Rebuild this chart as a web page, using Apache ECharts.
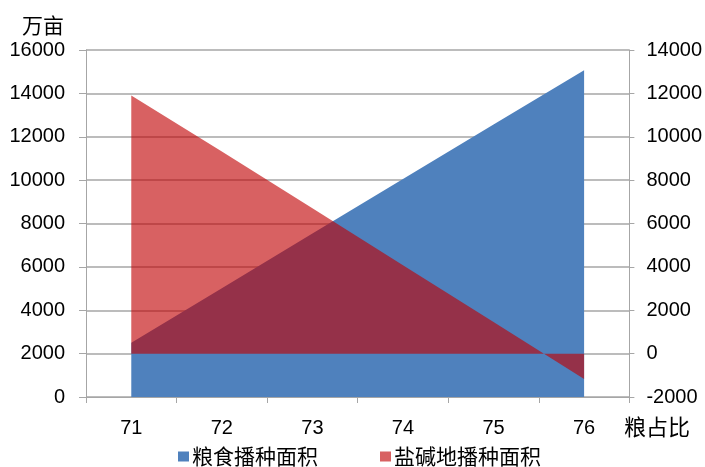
<!DOCTYPE html>
<html>
<head>
<meta charset="utf-8">
<script src="https://cdn.jsdelivr.net/npm/echarts@6/dist/echarts.min.js"></script>
<style>html,body{margin:0;padding:0;background:#fff;}#c{width:705px;height:467px;}</style>
</head>
<body>
<div id="c"></div>
<script>
var categories = ['71', '72', '73', '74', '75', '76'];
var grainArea = [2500, 5020, 7540, 10050, 12570, 15070];
var salineArea = [11900, 9320, 6700, 4080, 1460, -1170];
var seriesNames = ['粮食播种面积', '盐碱地播种面积'];
var leftTicks = {min: 0, max: 16000, interval: 2000};
var rightTicks = {min: -2000, max: 14000, interval: 2000};
var yUnit = '万亩';
var xTitle = '粮占比';

var numFont = 'Liberation Sans, Arial, sans-serif';
var cjkFont = '"Noto Sans CJK SC", sans-serif';
var gridColor = '#a6a6a6';
function plain(v) { return String(v); }

var chart = echarts.init(document.getElementById('c'), null, {renderer: 'canvas'});
chart.setOption({
  animation: false,
  backgroundColor: '#ffffff',
  grid: {left: 86, right: 74, top: 50, bottom: 70, containLabel: false},
  legend: {
    data: seriesNames,
    left: 173, top: 441,
    itemWidth: 11, itemHeight: 10, itemGap: 62,
    icon: 'rect',
    textStyle: {fontFamily: cjkFont, fontSize: 21, color: '#000', padding: [0, 0, 0, -2]}
  },
  graphic: [
    {type: 'text', left: 22, top: 15, style: {text: yUnit, fontFamily: cjkFont, fontSize: 21, fill: '#000'}},
    {type: 'text', left: 624, top: 416, style: {text: xTitle, fontFamily: cjkFont, fontSize: 22, fill: '#000'}}
  ],
  xAxis: {
    type: 'category',
    data: categories,
    boundaryGap: true,
    axisLine: {lineStyle: {color: gridColor, width: 1}},
    axisTick: {show: true, length: 6, lineStyle: {color: gridColor}},
    axisLabel: {fontFamily: numFont, fontSize: 20, color: '#000', margin: 21},
    splitLine: {show: false}
  },
  yAxis: [
    {
      type: 'value', position: 'left',
      min: leftTicks.min, max: leftTicks.max, interval: leftTicks.interval,
      axisLine: {show: true, lineStyle: {color: gridColor, width: 1}},
      axisTick: {show: true, length: 7, lineStyle: {color: gridColor}},
      axisLabel: {fontFamily: numFont, fontSize: 20, color: '#000', margin: 21, formatter: plain},
      splitLine: {show: true, lineStyle: {color: gridColor, width: 1.5}}
    },
    {
      type: 'value', position: 'right',
      min: rightTicks.min, max: rightTicks.max, interval: rightTicks.interval,
      axisLine: {show: true, lineStyle: {color: gridColor, width: 1}},
      axisTick: {show: true, length: 5, lineStyle: {color: gridColor}},
      axisLabel: {fontFamily: numFont, fontSize: 20, color: '#000', margin: 17, formatter: plain},
      splitLine: {show: false}
    }
  ],
  series: [
    {
      name: seriesNames[0], type: 'line', yAxisIndex: 0,
      data: grainArea,
      showSymbol: false, symbol: 'none',
      lineStyle: {width: 0},
      itemStyle: {color: '#4f81bd'},
      areaStyle: {color: '#4f81bd', opacity: 1, origin: 'auto'},
      z: 2
    },
    {
      name: seriesNames[1], type: 'line', yAxisIndex: 1,
      data: salineArea,
      showSymbol: false, symbol: 'none',
      lineStyle: {width: 0},
      itemStyle: {color: 'rgba(192,0,2,0.62)'},
      areaStyle: {color: 'rgba(192,0,2,0.62)', opacity: 1, origin: 'auto'},
      z: 3
    }
  ]
});
</script>
</body>
</html>
